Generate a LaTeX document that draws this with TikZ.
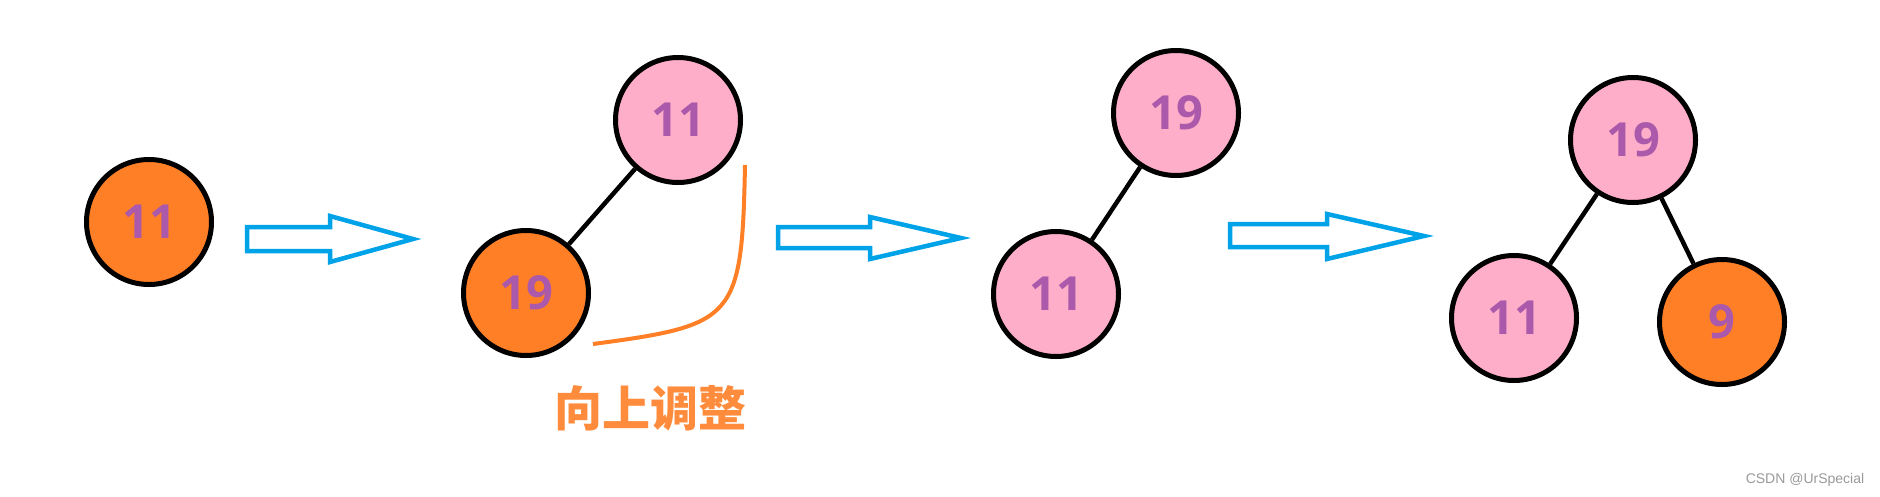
\documentclass[tikz,border=0pt]{standalone}
\usepackage{fontspec}
\newfontfamily\cjk{Noto Sans CJK SC}
\newfontfamily\numfont{Open Sans}
\setmainfont{Liberation Sans}
\definecolor{nodeorange}{HTML}{FF7F27}
\definecolor{nodepink}{HTML}{FFAEC9}
\definecolor{numpurple}{HTML}{AB5AAB}
\definecolor{arrowblue}{HTML}{00A2E8}
\definecolor{labelorange}{HTML}{FF8C3C}
\definecolor{wmgray}{HTML}{999999}
\begin{document}
\begin{tikzpicture}[x=1pt,y=-1pt,
  heapnode/.style={circle,draw=black,line width=5pt,minimum size=125pt,inner sep=0pt,
    font=\numfont\bfseries\fontsize{47}{47}\selectfont,text=numpurple},
  hot/.style={heapnode,fill=nodeorange},
  cool/.style={heapnode,fill=nodepink},
  edge/.style={line width=4.5pt,black},
  blockarrow/.style={draw=arrowblue,line width=4.5pt,fill=white,line join=miter}]
\useasboundingbox (0,0) rectangle (1880,496);
% stage 1
\node[hot] (a1) at (149,222) {11};
% arrow 1
\draw[blockarrow] (247,227) -- (330,227) -- (330,216) -- (413,239) -- (330,262) -- (330,251) -- (247,251) -- cycle;
% stage 2
\node[cool] (b11) at (678,120) {11};
\node[hot] (b19) at (526,293) {19};
\draw[edge] (b11) -- (b19);
\coordinate (cs) at (745,165);
\coordinate (ce) at (593,344);
\draw[line width=4pt,nodeorange] (cs) .. controls (742,320) and (735,325) .. (ce);
\node[font=\cjk\bfseries\fontsize{48}{48}\selectfont,text=labelorange] (lbl) at (650,408) {向上调整};
% arrow 2
\draw[blockarrow] (778,227) -- (870,227) -- (870,217) -- (961,238) -- (870,259) -- (870,248) -- (778,248) -- cycle;
% stage 3
\node[cool] (c19) at (1176,113) {19};
\node[cool] (c11) at (1056,294) {11};
\draw[edge] (c19) -- (c11);
% arrow 3
\draw[blockarrow] (1230,224) -- (1327,224) -- (1327,214) -- (1424,236) -- (1327,259) -- (1327,247) -- (1230,247) -- cycle;
% stage 4
\node[cool] (d19) at (1633,140) {19};
\node[cool] (d11) at (1514,318) {11};
\node[hot] (d9) at (1722,322) {9};
\draw[edge] (d19) -- (d11);
\draw[edge] (d19) -- (d9);
% watermark
\node[font=\fontsize{14}{14}\selectfont,text=wmgray] (wm) at (1805,480) {CSDN @UrSpecial};
\end{tikzpicture}
\end{document}
